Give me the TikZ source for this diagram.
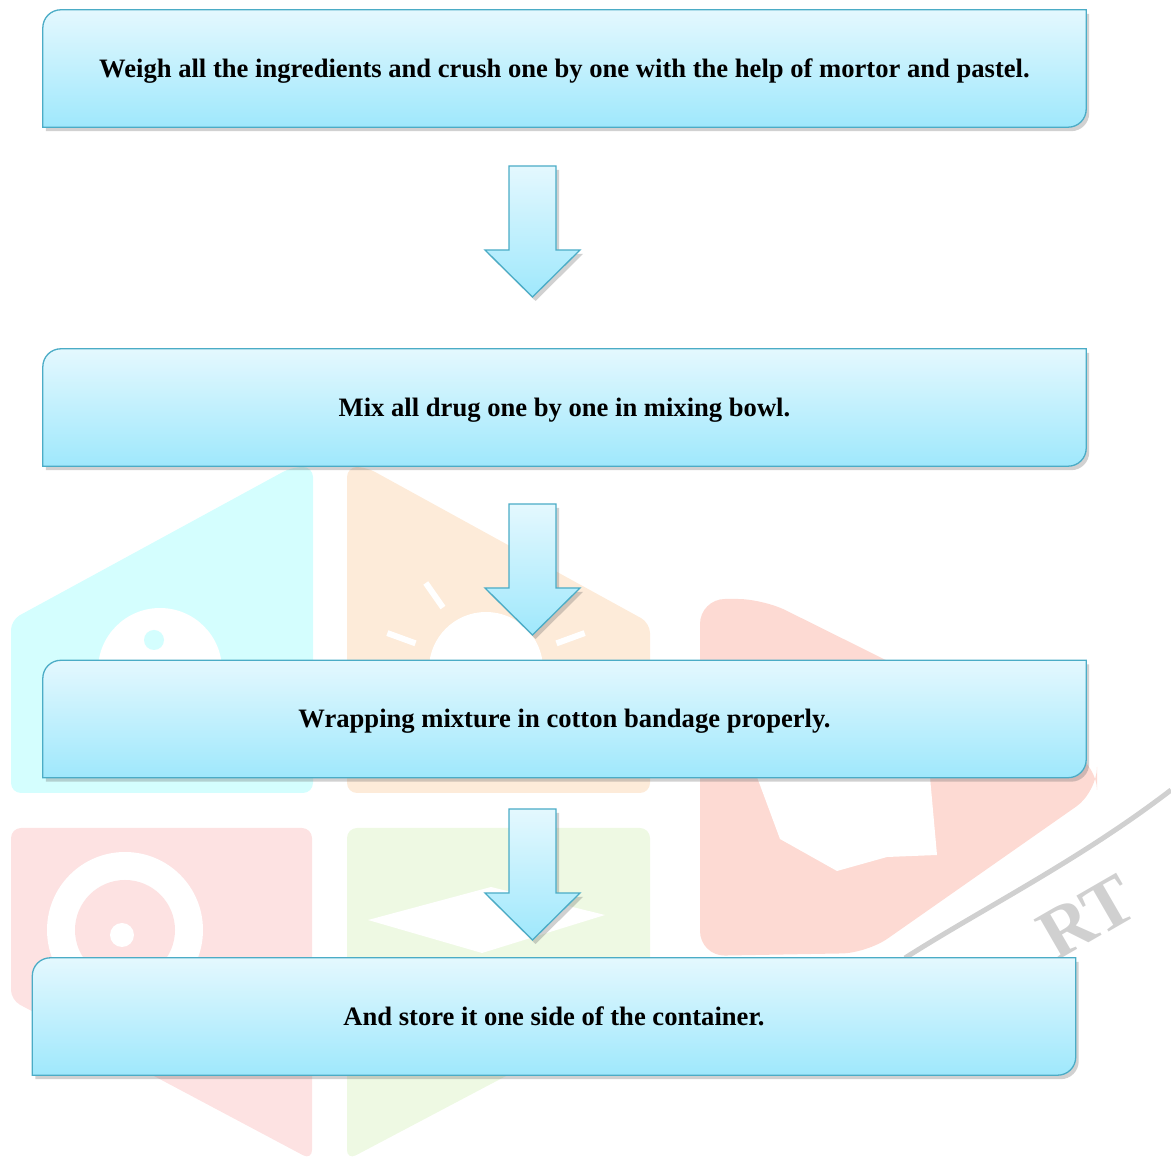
\documentclass[tikz,border=0pt]{standalone}
\usepackage{fontspec}
\setmainfont{Liberation Serif}
\usepackage{tikz}
\usetikzlibrary{calc,positioning,shadows,backgrounds}

\definecolor{boxline}{HTML}{4BACC6}
\definecolor{boxtop}{HTML}{E4F8FE}
\definecolor{boxbot}{HTML}{9FE8FC}
\definecolor{wmcyan}{HTML}{D4FEFE}
\definecolor{wmorange}{HTML}{FDEBD9}
\definecolor{wmred}{HTML}{FDE2E2}
\definecolor{wmgreen}{HTML}{EEF9E3}
\definecolor{wmpink}{HTML}{FDDAD3}
\definecolor{wmgrey}{HTML}{D0D0D0}

\tikzset{
  stepbox/.style={rectangle, minimum width=1043pt, minimum height=117pt, inner sep=0pt,
    text height=23pt, text depth=5pt, font=\fontsize{26.6}{30}\selectfont\bfseries},
  stepshape/.style={draw=boxline, line width=1.3pt, top color=boxtop, bottom color=boxbot,
    drop shadow={shadow xshift=3pt, shadow yshift=-4pt, opacity=0.3, fill=black!60}},
}

% frame with two rounded corners (top left, bottom right)
\newcommand{\stepframe}[1]{%
  \path[stepshape] ($(#1.north west)+(0,-18pt)$) arc[start angle=180, end angle=90, radius=18pt]
    -- (#1.north east) -- ($(#1.south east)+(0,18pt)$) arc[start angle=0, end angle=-90, radius=18pt]
    -- (#1.south west) -- cycle;}

% block arrow hanging down from a coordinate
\newcommand{\flowarrow}[1]{%
  \path[stepshape, line join=miter] ($(#1)+(-23.5,0)$) -- ++(47,0) -- ++(0,-84) -- ++(24,0)
    -- ++(-47.5,-47) -- ++(-47.5,47) -- ++(24,0) -- cycle;}

\begin{document}
\begin{tikzpicture}[x=1pt, y=1pt]
  \useasboundingbox (0,0) rectangle (1171,1160);

  % steps
  \node[stepbox] (weigh) at (564.5,1091.5) {Weigh all the ingredients and crush one by one with the help of mortor and pastel.};
  \node[stepbox] (mix)   at (564.5,752.5)  {Mix all drug one by one in mixing bowl.};
  \node[stepbox] (wrap)  at (564.5,441)    {Wrapping mixture in cotton bandage properly.};
  \node[stepbox] (store) at (554,143.5)    {And store it one side of the container.};

  \begin{scope}[on background layer]
    % faint watermark
    \fill[wmcyan, rounded corners=10pt] (11,367) -- (11,540) -- (292,693) -- (313,693) -- (313,367) -- cycle;
    \fill[wmorange, rounded corners=10pt] (347,367) -- (347,693) -- (366,693) -- (650,537) -- (650,367) -- cycle;
    \fill[wmred, rounded corners=10pt] (11,160) -- (11,332) -- (312,332) -- (312,0) -- cycle;
    \fill[wmgreen, rounded corners=10pt] (347,0) -- (347,332) -- (650,332) -- (650,160) -- cycle;
    \fill[wmpink, rounded corners=25pt] (700,204) -- (700,561) -- (763,561) -- (1097,395) -- (1097,368) -- (867,207) -- cycle;
    \fill[white] (757,383) -- (780,321) -- (837,289) -- (887,303) -- (937,305) -- (930,383) -- cycle;
    \fill[white] (160,490) circle (62pt);
    \fill[wmcyan] (154,520) circle (10pt);
    \fill[white] (486,491) circle (57pt);
    \foreach \a in {20,55,125,160} \draw[white, line width=6pt] (486,491) ++(\a:75) -- ++(\a:30);
    \fill[white] (125,230) circle (78pt);
    \fill[wmred] (125,230) circle (50pt);
    \fill[white] (122,225) circle (12pt);
    \fill[white] (368,240) -- (491,273) -- (605,245) -- (482,207) -- cycle;
    \draw[wmgrey, line width=5pt] (1171,370) .. controls (1080,300) and (980,250) .. (905,202);
    \node[wmgrey, rotate=30, inner sep=0pt, font=\fontsize{72}{72}\selectfont\bfseries] (wmtext) at (1087,243) {RT};
    % step frames
    \stepframe{weigh}
    \stepframe{mix}
    \stepframe{wrap}
    \stepframe{store}
  \end{scope}

  % arrows between steps
  \coordinate (a1) at (532.5,994);
  \coordinate (a2) at (532.5,656);
  \coordinate (a3) at (532.5,351);
  \flowarrow{a1}
  \flowarrow{a2}
  \flowarrow{a3}
\end{tikzpicture}
\end{document}
